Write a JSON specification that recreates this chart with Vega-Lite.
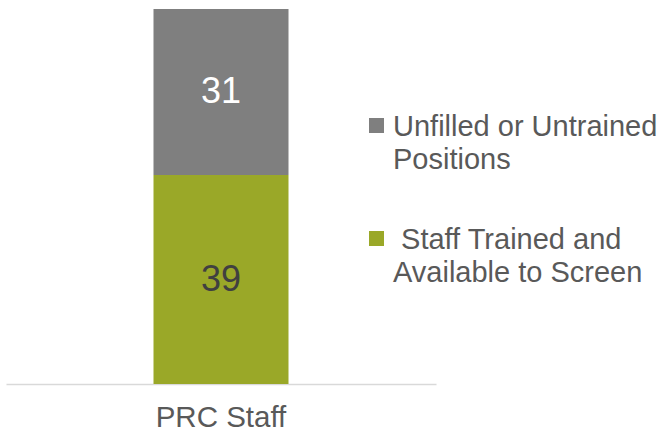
{
  "$schema": "https://vega.github.io/schema/vega-lite/v6.json",
  "autosize": "none",
  "width": 430,
  "height": 375,
  "padding": {"left": 6, "top": 9, "right": 225, "bottom": 48},
  "background": "white",
  "config": {
    "view": {"stroke": null},
    "font": "Liberation Sans"
  },
  "data": {
    "values": [
      {"group": "PRC Staff", "category": "Staff Trained and Available to Screen", "value": 39, "rank": 1},
      {"group": "PRC Staff", "category": "Unfilled or Untrained Positions", "value": 31, "rank": 2}
    ]
  },
  "encoding": {
    "x": {
      "field": "group",
      "type": "nominal",
      "axis": {
        "title": null,
        "labelAngle": 0,
        "ticks": false,
        "domainColor": "#D9D9D9",
        "domainWidth": 1.5,
        "labelFont": "Liberation Sans",
        "labelFontSize": 29.5,
        "labelColor": "#595959",
        "labelPadding": 19
      }
    }
  },
  "layer": [
    {
      "mark": {"type": "bar", "size": 135},
      "encoding": {
        "y": {"field": "value", "type": "quantitative", "stack": "zero", "scale": {"domain": [0, 70], "nice": false}, "axis": null},
        "color": {
          "field": "category",
          "type": "nominal",
          "scale": {"domain": ["Unfilled or Untrained Positions", "Staff Trained and Available to Screen"], "range": ["#7F7F7F", "#9AA828"]},
          "legend": {
            "title": null,
            "orient": "none",
            "legendX": 356,
            "legendY": 102,
            "symbolType": "square",
            "symbolSize": 225,
            "symbolStrokeWidth": 0,
            "labelFont": "Liberation Sans",
            "labelFontSize": 29,
            "labelColor": "#595959",
            "labelLimit": 400,
            "labelOffset": 2,
            "labelBaseline": "alphabetic",
            "rowPadding": 49,
            "labelExpr": "datum.label == 'Unfilled or Untrained Positions' ? ['Unfilled or Untrained', 'Positions'] : ['\u200b\u00a0Staff Trained and', 'Available to Screen']",
            "encode": {
              "labels": {"update": {"lineHeight": {"value": 33.5}, "dy": {"value": 10}}}
            }
          }
        },
        "order": {"field": "rank", "type": "quantitative"}
      }
    },
    {
      "transform": [
        {"stack": "value", "groupby": ["group"], "sort": [{"field": "rank", "order": "ascending"}], "as": ["y0", "y1"]},
        {"calculate": "(datum.y0 + datum.y1) / 2", "as": "mid"}
      ],
      "mark": {"type": "text", "font": "Liberation Sans", "fontSize": 36, "baseline": "middle", "align": "center"},
      "encoding": {
        "y": {"field": "mid", "type": "quantitative"},
        "text": {"field": "value", "type": "quantitative"},
        "color": {"condition": {"test": "datum.rank == 2", "value": "#FFFFFF"}, "value": "#404040"}
      }
    }
  ]
}
